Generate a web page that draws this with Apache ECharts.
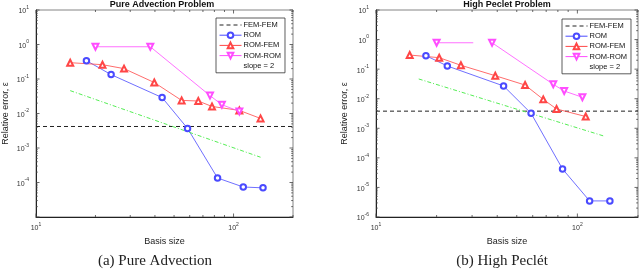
<!DOCTYPE html>
<html><head><meta charset="utf-8">
<script src="https://cdn.jsdelivr.net/npm/echarts@6/dist/echarts.min.js"></script>
<style>html,body{margin:0;padding:0;background:#fff}#c{width:640px;height:269px}</style>
</head><body><div id="c"></div>
<script>
// ---------------- data ----------------
const xRange = [10, 200];
const yRangeA = [1e-5, 10];
const yRangeB = [1e-6, 10];
const legendNames = ['FEM-FEM', 'ROM', 'ROM-FEM', 'ROM-ROM', 'slope = 2'];
const titles = ['Pure Advection Problem', 'High Peclet Problem'];
const captions = ['(a) Pure Advection', '(b) High Peclét'];
const xName = 'Basis size';
const yName = 'Relative error, ε';

// (a) Pure Advection
const femA = 0.0042;
const romXA = [18, 24, 43.5, 58.5, 83, 112, 141];
const romYA = [0.34, 0.134, 0.029, 0.0037, 1.35e-4, 7.4e-5, 7.0e-5];
const romFemXA = [14.9, 21.7, 27.9, 39.7, 54.6, 66.3, 77.8, 107, 137];
const romFemYA = [0.297, 0.26, 0.2, 0.079, 0.024, 0.023, 0.016, 0.0123, 0.0072];
const romRomXA = [20, 37.9, 76, 87.3, 107];
const romRomYA = [0.86, 0.86, 0.033, 0.018, 0.0115];
const slopeXA = [14.9, 137];
const slopeYA = [0.046, 5.4e-4];

// (b) High Peclet
const femB = 0.0038;
const romXB = [17.7, 22.6, 43, 58.9, 84.4, 115, 145];
const romYB = [0.285, 0.128, 0.027, 0.0032, 4.2e-5, 3.5e-6, 3.5e-6];
const romFemXB = [14.7, 20.6, 26.4, 39.1, 55, 67.7, 78.8, 110];
const romFemYB = [0.30, 0.244, 0.135, 0.06, 0.029, 0.0095, 0.0045, 0.0025];
const romRomXB = [20, 30.4, null, 37.7, 75.9, 86, 105.9];
const romRomYB = [0.78, 0.78, null, 0.78, 0.0307, 0.0182, 0.0112];
const romRomNoMarkB = [1]; // index drawn without a marker
const slopeXB = [16.3, 135];
const slopeYB = [0.0465, 5.5e-4];

// ---------------- helpers ----------------
const zip = (xs, ys) => xs.map((x, i) => (x == null ? null : [x, ys[i]]));
const C = { fem: '#222', rom: '#4a4aff', romFem: '#ff4646', romRom: '#ff4dff', slope: '#55ee55' };
const FONT = 'Liberation Sans, Arial, sans-serif';

function powLabel(v) {
  const e = Math.log10(v);
  if (Math.abs(e - Math.round(e)) > 1e-6) return '';
  return '{b|10}{e|' + Math.round(e) + '}';
}
const richLab = {
  b: { fontSize: 7, color: '#333', fontFamily: FONT, lineHeight: 10, verticalAlign: 'bottom' },
  e: { fontSize: 5, color: '#333', fontFamily: FONT, lineHeight: 10, verticalAlign: 'top' }
};

function mkSeries(g, fem, romX, romY, rfX, rfY, rrX, rrY, sX, sY, noMark) {
  const rr = zip(rrX, rrY).map((p, i) => (p && noMark.indexOf(i) >= 0) ? { value: p, symbol: 'none' } : p);
  const base = { type: 'line', xAxisIndex: g, yAxisIndex: g, animation: false, clip: false };
  return [
    Object.assign({}, base, { name: 'FEM-FEM', data: [[xRange[0], fem], [xRange[1], fem]], symbol: 'none',
      lineStyle: { color: C.fem, width: 1, type: [4, 3] }, itemStyle: { color: C.fem } }),
    Object.assign({}, base, { name: 'ROM', data: zip(romX, romY), symbol: 'emptyCircle', symbolSize: 5.5,
      lineStyle: { color: C.rom, width: 0.8 }, itemStyle: { color: C.rom, borderWidth: 0.8 } }),
    Object.assign({}, base, { name: 'ROM-FEM', data: zip(rfX, rfY), symbol: 'emptyTriangle', symbolSize: 6,
      lineStyle: { color: C.romFem, width: 0.8 }, itemStyle: { color: C.romFem, borderWidth: 0.8 } }),
    Object.assign({}, base, { name: 'ROM-ROM', data: rr, symbol: 'emptyTriangle', symbolSize: 6, symbolRotate: 180,
      connectNulls: false,
      lineStyle: { color: C.romRom, width: 0.8 }, itemStyle: { color: C.romRom, borderWidth: 0.8 } }),
    Object.assign({}, base, { name: 'slope = 2', data: zip(sX, sY), symbol: 'none',
      lineStyle: { color: C.slope, width: 1, type: [4, 2, 1, 2] }, itemStyle: { color: C.slope } })
  ];
}

function tickSeries(g, yr) {
  return {
    type: 'custom', xAxisIndex: g, yAxisIndex: g, silent: true, clip: false, z: 6, animation: false,
    data: [[xRange[0], yr[0]]],
    renderItem: (params, api) => {
      const ch = [];
      const st = { stroke: '#444', lineWidth: 0.8 };
      const pl = api.coord([xRange[0], yr[0]]);
      const pr = api.coord([xRange[1], yr[1]]);
      const xl = pl[0], yb = pl[1], xr = pr[0], yt = pr[1];
      for (let d = 0; d <= 3; d++) for (let k = 1; k <= 9; k++) {
        const v = k * Math.pow(10, d);
        if (v < xRange[0] || v > xRange[1]) continue;
        const px = api.coord([v, yr[0]])[0];
        const len = k === 1 ? 3.5 : 2;
        ch.push({ type: 'line', shape: { x1: px, y1: yb, x2: px, y2: yb - len }, style: st });
        ch.push({ type: 'line', shape: { x1: px, y1: yt, x2: px, y2: yt + len }, style: st });
      }
      for (let d = Math.round(Math.log10(yr[0])); d <= Math.round(Math.log10(yr[1])); d++) for (let k = 1; k <= 9; k++) {
        const v = k * Math.pow(10, d);
        if (v < yr[0] * 0.999 || v > yr[1] * 1.001) continue;
        const py = api.coord([xRange[0], v])[1];
        const len = k === 1 ? 3.5 : 1.8;
        ch.push({ type: 'line', shape: { x1: xl, y1: py, x2: xl + len, y2: py }, style: st });
        ch.push({ type: 'line', shape: { x1: xr, y1: py, x2: xr - len, y2: py }, style: st });
      }
      return { type: 'group', children: ch };
    }
  };
}

const grids = [
  { left: 31, top: 10, width: 262, height: 207 },
  { left: 376, top: 10, width: 262, height: 207 }
];
function mkX(g) {
  return { type: 'log', logBase: 10, gridIndex: g, min: xRange[0], max: xRange[1],
    axisLine: { show: true, lineStyle: { color: '#222', width: 1 } }, axisTick: { show: false },
    splitLine: { show: false },
    axisLabel: { formatter: powLabel, rich: richLab, margin: 5, showMaxLabel: false },
    name: xName, nameLocation: 'middle', nameGap: 18,
    nameTextStyle: { fontSize: 9, color: '#222', fontFamily: FONT } };
}
function mkY(g, yr, gap, showMin) {
  return { type: 'log', logBase: 10, gridIndex: g, min: yr[0], max: yr[1], splitNumber: Math.round(Math.log10(yr[1] / yr[0])),
    axisLine: { show: true, lineStyle: { color: '#222', width: 1 } }, axisTick: { show: false },
    splitLine: { show: false },
    axisLabel: { formatter: powLabel, rich: richLab, margin: 7, showMinLabel: showMin },
    name: yName, nameLocation: 'middle', nameGap: gap,
    nameTextStyle: { fontSize: 9, color: '#222', fontFamily: FONT } };
}
function mkLegend(left, top) {
  return { orient: 'vertical', left: left, top: top, itemWidth: 22, itemHeight: 7, itemGap: 2.2,
    backgroundColor: '#fff', borderColor: '#333', borderWidth: 0.8, borderRadius: 0, padding: [3, 4, 3, 3],
    textStyle: { fontSize: 7.5, color: '#111', fontFamily: FONT, padding: [0, 0, 0, -3] },
    lineStyle: { width: 1 }, itemStyle: { borderWidth: 0.9 },
    data: legendNames.map(n => n === 'slope = 2' ? { name: n, itemStyle: { opacity: 0 }, lineStyle: { opacity: 0 } }
      : n === 'FEM-FEM' ? { name: n, itemStyle: { opacity: 0 } } : n),
    selectedMode: false };
}

const chart = echarts.init(document.getElementById('c'), null, { renderer: 'canvas' });
chart.setOption({
  animation: false,
  backgroundColor: '#fff',
  grid: grids.map(g => Object.assign({ show: true, borderColor: '#666', borderWidth: 0.8, backgroundColor: 'transparent' }, g)),
  xAxis: [mkX(0), mkX(1)],
  yAxis: [mkY(0, yRangeA, 26, false), mkY(1, yRangeB, 27, true)],
  legend: [mkLegend(216, 18), mkLegend(562, 19)],
  series: [
    ...mkSeries(0, femA, romXA, romYA, romFemXA, romFemYA, romRomXA, romRomYA, slopeXA, slopeYA, []),
    ...mkSeries(1, femB, romXB, romYB, romFemXB, romFemYB, romRomXB, romRomYB, slopeXB, slopeYB, romRomNoMarkB),
    tickSeries(0, yRangeA), tickSeries(1, yRangeB)
  ],
  graphic: [
    { type: 'text', x: 162, y: 4.5, style: { text: titles[0], align: 'center', verticalAlign: 'middle', font: 'bold 9px ' + FONT, fill: '#111' } },
    { type: 'text', x: 507, y: 4.5, style: { text: titles[1], align: 'center', verticalAlign: 'middle', font: 'bold 9px ' + FONT, fill: '#111' } },
    { type: 'text', x: 155, y: 261, style: { text: captions[0], align: 'center', verticalAlign: 'middle', font: '15px "Liberation Serif", serif', fill: '#222' } },
    { type: 'text', x: 502, y: 261, style: { text: captions[1], align: 'center', verticalAlign: 'middle', font: '15px "Liberation Serif", serif', fill: '#222' } }
  ]
});
</script></body></html>
